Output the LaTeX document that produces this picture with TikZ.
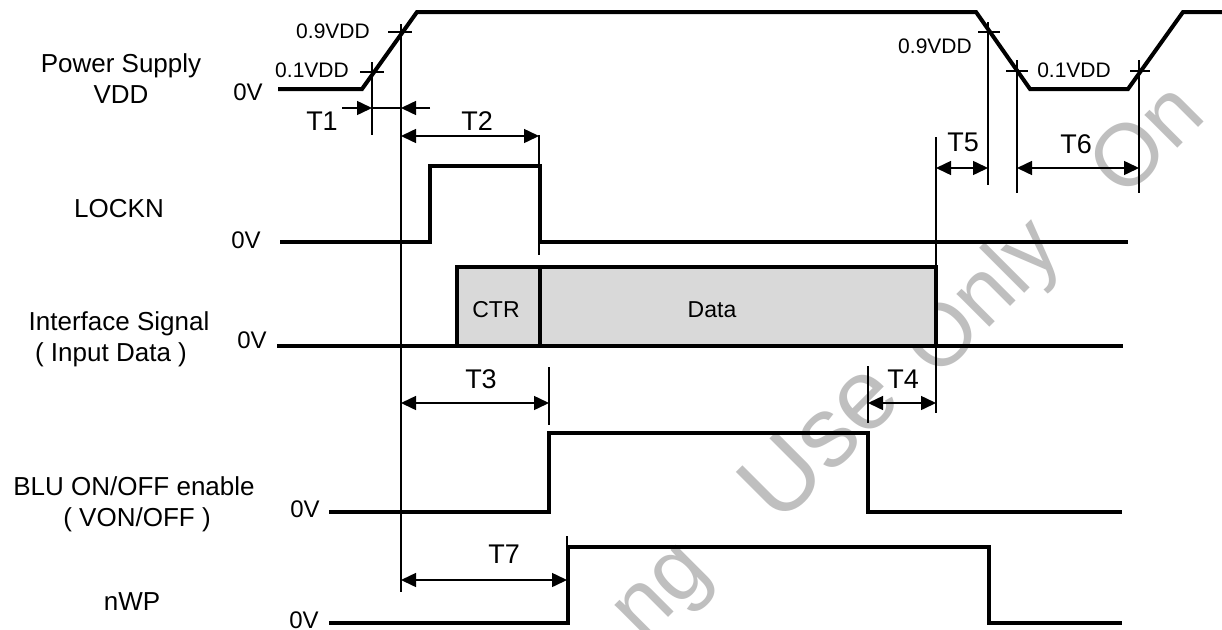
\documentclass[tikz,border=0pt]{standalone}
\usepackage{fontspec}
\setmainfont{Liberation Sans}
\usetikzlibrary{arrows.meta}
\begin{document}
\begin{tikzpicture}[x=1pt,y=-1pt,
  wave/.style={line width=4pt,line join=miter},
  thinline/.style={line width=1.5pt},
  dimarrow/.style={line width=1.5pt,{Triangle[length=15pt,width=14pt]}-{Triangle[length=15pt,width=14pt]}},
  onearrow/.style={line width=1.5pt,-{Triangle[length=15pt,width=14pt]}},
  lbl/.style={font=\fontsize{26}{30}\selectfont,inner sep=0pt,anchor=base},
  zero/.style={font=\fontsize{24}{28}\selectfont,inner sep=0pt,anchor=base},
  lvl/.style={font=\fontsize{21}{24}\selectfont,inner sep=0pt,anchor=base},
  tlbl/.style={font=\fontsize{27}{30}\selectfont,inner sep=0pt,anchor=base},
  boxlbl/.style={font=\fontsize{23}{26}\selectfont,inner sep=0pt,anchor=base},
  wm/.style={text=black!25,font=\fontsize{88}{90}\selectfont,inner sep=0pt,rotate=45}
]
\useasboundingbox (0,0) rectangle (1222,629);
\fill[white] (0,0) rectangle (1222,629);

% watermark
\node[wm] (wm1) at (668,598) {ng};
\node[wm,font=\fontsize{100}{100}\selectfont] (wm2) at (818,440) {Use};
\node[wm] (wm3) at (985,300) {Only};
\node[wm] (wm4) at (1145,138) {On};

% signal names
\node[lbl] (ps1) at (121,72) {Power Supply};
\node[lbl] (ps2) at (121,103) {VDD};
\node[lbl] (lk) at (119,217) {LOCKN};
\node[lbl] (if1) at (119,330) {Interface Signal};
\node[lbl] (if2) at (111,361) {( Input Data )};
\node[lbl] (blu1) at (134,495) {BLU ON/OFF enable};
\node[lbl] (blu2) at (137,526) {( VON/OFF )};
\node[lbl] (nwp) at (132,610) {nWP};

% 0V labels
\node[zero] (z1) at (248,100) {0V};
\node[zero] (z2) at (246,248) {0V};
\node[zero] (z3) at (252,348) {0V};
\node[zero] (z4) at (305,517) {0V};
\node[zero] (z5) at (304,628) {0V};

% level labels
\node[lvl] (l9a) at (333,38) {0.9VDD};
\node[lvl] (l1a) at (312,77) {0.1VDD};
\node[lvl] (l9b) at (935,53) {0.9VDD};
\node[lvl] (l1b) at (1074,77) {0.1VDD};

% interface box
\filldraw[wave,fill=black!15] (457,346) -- (457,267) -- (936,267) -- (936,346);
\draw[wave] (540,267) -- (540,346);
\node[boxlbl] (ctr) at (496,317) {CTR};
\node[boxlbl] (data) at (712,317) {Data};

% waveforms
\draw[wave] (278,89) -- (362,89) -- (417,12) -- (976,12) -- (1030,89) -- (1128,89) -- (1183,12) -- (1222,12);
\draw[wave] (280,242) -- (430,242) -- (430,166) -- (540,166) -- (540,242) -- (1128,242);
\draw[wave] (277,346) -- (1123,346);
\draw[wave] (329,512) -- (549,512) -- (549,433) -- (868,433) -- (868,512) -- (1122,512);
\draw[wave] (329,623) -- (568,623) -- (568,547) -- (989,547) -- (989,623) -- (1122,623);

% reference lines
\coordinate (v1t) at (372,62);   \coordinate (v1b) at (372,135);
\coordinate (v2t) at (401,24);   \coordinate (v2b) at (401,592);
\coordinate (v3t) at (539,135);  \coordinate (v3b) at (539,255);
\coordinate (v4t) at (549,367);  \coordinate (v4b) at (549,425);
\coordinate (v5t) at (868,366);  \coordinate (v5b) at (868,423);
\coordinate (v6t) at (936,137);  \coordinate (v6b) at (936,413);
\coordinate (v7t) at (988,22);   \coordinate (v7b) at (988,185);
\coordinate (v8t) at (1017,60);  \coordinate (v8b) at (1017,193);
\coordinate (v9t) at (1139,60);  \coordinate (v9b) at (1139,193);
\coordinate (v10t) at (567,536); \coordinate (v10b) at (567,550);
\foreach \i in {1,...,10} {\draw[thinline] (v\i t) -- (v\i b);}

% level crosshair ticks
\draw[thinline] (388,32) -- (412,32);
\draw[thinline] (360,72) -- (384,72);
\draw[thinline] (978,32) -- (1000,32);
\draw[thinline] (1006,71) -- (1028,71);
\draw[thinline] (1130,71) -- (1150,71);

% T1
\coordinate (t1a) at (342,108); \coordinate (t1b) at (372,108);
\coordinate (t1c) at (401,108); \coordinate (t1d) at (430,108);
\draw[onearrow] (t1a) -- (t1b);
\draw[onearrow] (t1d) -- (t1c);
\draw[thinline] (t1b) -- (t1c);
\node[tlbl] (T1) at (322,130) {T1};

% T2
\coordinate (t2a) at (401,136); \coordinate (t2b) at (539,136);
\draw[dimarrow] (t2a) -- (t2b);
\node[tlbl] (T2) at (477,130) {T2};

% T3
\coordinate (t3a) at (401,403); \coordinate (t3b) at (549,403);
\draw[dimarrow] (t3a) -- (t3b);
\node[tlbl] (T3) at (481,388) {T3};

% T4
\coordinate (t4a) at (868,403); \coordinate (t4b) at (936,403);
\draw[dimarrow] (t4a) -- (t4b);
\node[tlbl] (T4) at (903,388) {T4};

% T5
\coordinate (t5a) at (936,168); \coordinate (t5b) at (988,168);
\draw[dimarrow] (t5a) -- (t5b);
\node[tlbl] (T5) at (963,151) {T5};

% T6
\coordinate (t6a) at (1017,168); \coordinate (t6b) at (1139,168);
\draw[dimarrow] (t6a) -- (t6b);
\node[tlbl] (T6) at (1076,153) {T6};

% T7
\coordinate (t7a) at (401,580); \coordinate (t7b) at (567,580);
\draw[dimarrow] (t7a) -- (t7b);
\node[tlbl] (T7) at (504,563) {T7};
\end{tikzpicture}
\end{document}
